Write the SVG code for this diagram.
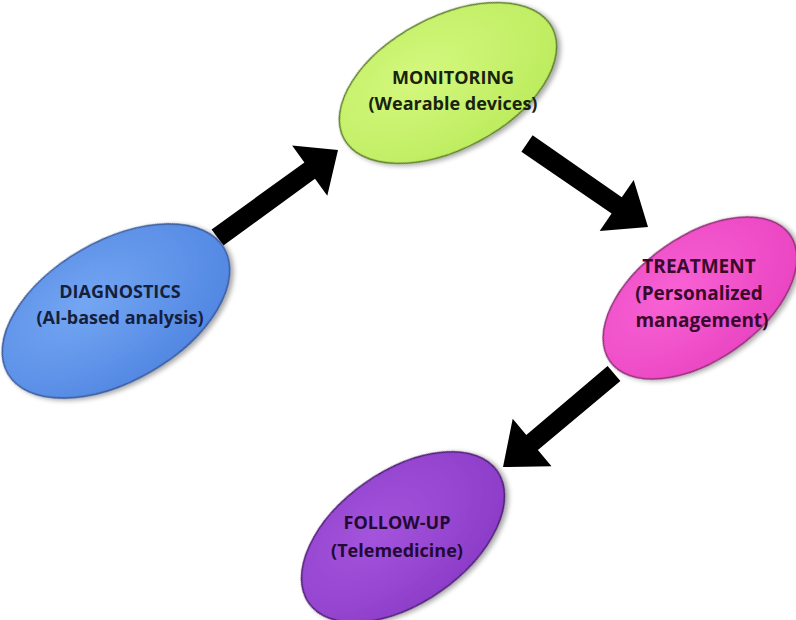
<svg xmlns="http://www.w3.org/2000/svg" width="796" height="620" viewBox="0 0 796 620">
<defs>
<radialGradient id="gBlue" cx="0.4" cy="0.35" r="0.7"><stop offset="0" stop-color="#74a6f2"/><stop offset="1" stop-color="#5186e2"/></radialGradient>
<radialGradient id="gGreen" cx="0.4" cy="0.35" r="0.7"><stop offset="0" stop-color="#d4f87e"/><stop offset="1" stop-color="#bcec5e"/></radialGradient>
<radialGradient id="gPink" cx="0.4" cy="0.35" r="0.7"><stop offset="0" stop-color="#f862d4"/><stop offset="1" stop-color="#ea44c2"/></radialGradient>
<radialGradient id="gPurple" cx="0.4" cy="0.35" r="0.7"><stop offset="0" stop-color="#a454dc"/><stop offset="1" stop-color="#8c3cc8"/></radialGradient>
<filter id="sh" x="-20%" y="-20%" width="140%" height="140%"><feGaussianBlur in="SourceAlpha" stdDeviation="2.5"/><feOffset dx="2" dy="3"/><feComponentTransfer><feFuncA type="linear" slope="0.35"/></feComponentTransfer><feMerge><feMergeNode/><feMergeNode in="SourceGraphic"/></feMerge></filter>
</defs>
<style>
.t{font-family:"Open Sans","Liberation Sans",sans-serif;font-weight:bold;font-size:18px;text-anchor:middle}
.e{stroke-width:1.5;filter:url(#sh)}
.a{fill:#000}
</style>
<rect width="796" height="620" fill="#fff"/>
<g id="connectors">
<polygon class="a" points="211.6,229.4 304.4,162.5 292.1,145.5 338,150 327.3,195.7 315,178.7 223.4,245.6"/>
<polygon class="a" points="532.6,135.3 621.8,197.2 633.7,179.9 648,227 599.7,230.9 611.6,213.6 521.4,151.7"/>
<polygon class="a" points="607.6,365.9 526.3,434.9 512.7,418.8 503,467 551.5,466.2 537.9,450.1 620.4,381.1"/>
</g>
<g id="diagnostics">
<ellipse class="e" cx="116" cy="311" rx="125" ry="70" transform="rotate(-30 116 311)" fill="url(#gBlue)" stroke="#3a5a9a"/>
<text class="t" x="120" y="298" fill="#15203c">DIAGNOSTICS</text>
<text class="t" x="120" y="324" fill="#15203c">(AI-based analysis)</text>
</g>
<g id="monitoring">
<ellipse class="e" cx="448" cy="83" rx="118" ry="66" transform="rotate(-28 448 83)" fill="url(#gGreen)" stroke="#5a7a2a"/>
<text class="t" x="453" y="84" fill="#18220e">MONITORING</text>
<text class="t" x="453" y="110" fill="#18220e">(Wearable devices)</text>
</g>
<g id="treatment">
<ellipse class="e" cx="700" cy="298" rx="110" ry="62" transform="rotate(-35 700 298)" fill="url(#gPink)" stroke="#8a2a70"/>
<text class="t" x="699" y="273" fill="#3a0a2c" style="font-size:19px">TREATMENT</text>
<text class="t" x="699" y="300" fill="#3a0a2c" style="font-size:19px">(Personalized</text>
<text class="t" x="702" y="327" fill="#3a0a2c" style="font-size:19px">management)</text>
</g>
<g id="follow-up">
<ellipse class="e" cx="403" cy="537" rx="115" ry="66" transform="rotate(-35 403 537)" fill="url(#gPurple)" stroke="#4a1a70"/>
<text class="t" x="397" y="529" fill="#220a34">FOLLOW-UP</text>
<text class="t" x="397" y="557" fill="#220a34">(Telemedicine)</text>
</g>
</svg>
